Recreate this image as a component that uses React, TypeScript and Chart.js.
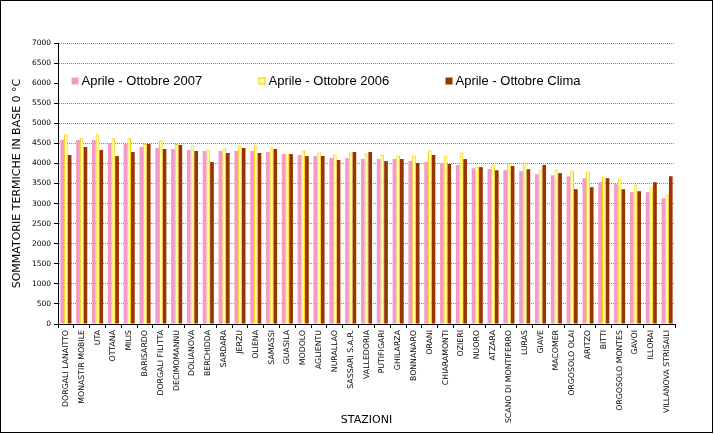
import React, { useEffect, useRef } from "react";
import { Chart, registerables } from "chart.js";

Chart.register(...registerables);

const stations: string[] = [
  "DORGALI LANAITTO", "MONASTIR MOBILE", "UTA", "OTTANA", "MILIS", "BARISARDO",
  "DORGALI FILITTA", "DECIMOMANNU", "DOLIANOVA", "BERCHIDDA", "SARDARA", "JERZU",
  "OLIENA", "SAMASSI", "GUASILA", "MODOLO", "AGLIENTU", "NURALLAO", "SASSARI S.A.R.",
  "VALLEDORIA", "PUTIFIGARI", "GHILARZA", "BONNANARO", "ORANI", "CHIARAMONTI",
  "OZIERI", "NUORO", "ATZARA", "SCANO DI MONTIFERRO", "LURAS", "GIAVE", "MACOMER",
  "ORGOSOLO OLAI", "ARITZO", "BITTI", "ORGOSOLO MONTES", "GAVOI", "ILLORAI",
  "VILLANOVA STRISAILI",
];

const values2007: number[] = [
  4583, 4583, 4583, 4508, 4483, 4408, 4383, 4358, 4333, 4308, 4308, 4308,
  4308, 4283, 4233, 4208, 4183, 4133, 4133, 4108, 4108, 4108, 4058, 4033,
  4008, 3958, 3883, 3858, 3833, 3808, 3733, 3708, 3683, 3633, 3533, 3483,
  3283, 3283, 3133,
];

const values2006: number[] = [
  4725, 4625, 4725, 4625, 4625, 4483, 4575, 4483, 4450, 4350, 4375, 4425,
  4425, 4400, 4250, 4325, 4275, 4225, 4275, 4250, 4225, 4200, 4200, 4325,
  4200, 4275, 3925, 3975, 4000, 4025, 3850, 3850, 3825, 3800, 3675, 3625,
  3475, 3425, 3225,
];

const valuesClima: number[] = [
  4208, 4408, 4333, 4183, 4283, 4483, 4358, 4458, 4308, 4033, 4258, 4383,
  4258, 4358, 4233, 4183, 4183, 4083, 4283, 4283, 4058, 4108, 4008, 4208,
  3983, 4108, 3908, 3833, 3933, 3858, 3958, 3758, 3358, 3408, 3633, 3358,
  3308, 3533, 3683,
];

const seriesNames: string[] = [
  "Aprile - Ottobre 2007",
  "Aprile - Ottobre 2006",
  "Aprile - Ottobre Clima",
];

const yTitle = "SOMMATORIE TERMICHE IN BASE 0 °C";
const xTitle = "STAZIONI";

const PINK = "#F49AC8";
const YELLOW_FILL = "#FFFF99";
const YELLOW_BORDER = "#FFCC00";
const BROWN = "#993300";

const legendPlugin = {
  id: "insideLegend",
  afterDraw(chart: any) {
    const { ctx, chartArea } = chart;
    ctx.save();
    ctx.fillStyle = "#ffffff";
    ctx.fillRect(chartArea.left + 1, 72, chartArea.right - chartArea.left - 1, 20);
    ctx.font = "13px 'Liberation Sans', Arial, sans-serif";
    ctx.textBaseline = "middle";
    ctx.textAlign = "left";
    chart.data.datasets.forEach((ds: any, i: number) => {
      const x = chartArea.left + 13.5 + i * 187;
      const y = 77.5;
      if (i === 1) {
        ctx.fillStyle = YELLOW_FILL;
        ctx.fillRect(x, y, 7, 7);
        ctx.strokeStyle = YELLOW_BORDER;
        ctx.lineWidth = 1;
        ctx.strokeRect(x + 0.5, y + 0.5, 6, 6);
      } else {
        ctx.fillStyle = ds.backgroundColor;
        ctx.fillRect(x, y, 7, 7);
      }
      ctx.fillStyle = "#000";
      ctx.fillText(ds.label, x + 10, 81.5);
    });
    ctx.restore();
  },
};

const framePlugin = {
  id: "frame",
  afterDraw(chart: any) {
    const { ctx } = chart;
    ctx.save();
    ctx.strokeStyle = "#000";
    ctx.lineWidth = 1;
    ctx.strokeRect(0.5, 0.5, 712, 432);
    ctx.restore();
  },
};

export default function App() {
  const ref = useRef<HTMLCanvasElement>(null);

  useEffect(() => {
    document.body.style.margin = "0";
    const canvas = ref.current;
    if (!canvas) return;
    const chart = new Chart(canvas, {
      type: "bar",
      data: {
        labels: stations,
        datasets: [
          {
            label: seriesNames[0],
            data: values2007,
            backgroundColor: PINK,
            borderWidth: 0,
          },
          {
            label: seriesNames[1],
            data: values2006,
            backgroundColor: YELLOW_FILL,
            borderColor: YELLOW_BORDER,
            borderWidth: 1,
          },
          {
            label: seriesNames[2],
            data: valuesClima,
            backgroundColor: BROWN,
            borderWidth: 0,
          },
        ],
      },
      options: {
        responsive: false,
        animation: false,
        devicePixelRatio: 1,
        datasets: {
          bar: { categoryPercentage: 0.7, barPercentage: 1.0 },
        },
        layout: { padding: { left: 0, right: 39, top: 43, bottom: 0 } },
        plugins: {
          legend: { display: false },
          tooltip: { enabled: false },
        },
        scales: {
          x: {
            offset: true,
            grid: {
              offset: true,
              drawOnChartArea: false,
              drawTicks: true,
              tickLength: 4,
              tickColor: "#000",
              color: "#000",
            },
            border: { display: true, color: "#000", width: 1 },
            ticks: {
              autoSkip: false,
              minRotation: 90,
              maxRotation: 90,
              padding: 2,
              color: "#000",
              font: { family: "'DejaVu Sans', Verdana, sans-serif", size: 7.8 },
            },
            title: {
              display: true,
              text: xTitle,
              color: "#000",
              padding: { top: 0, bottom: 7.5 },
              font: { family: "'DejaVu Sans', Verdana, sans-serif", size: 11 },
            },
            afterFit(scale: any) {
              scale.height = 110;
            },
          },
          y: {
            min: 0,
            max: 7000,
            ticks: {
              stepSize: 500,
              padding: 3,
              color: "#000",
              callback: (v: any) => String(v),
              font: { family: "'DejaVu Sans', Verdana, sans-serif", size: 7.5 },
            },
            grid: {
              color: "#888888",
              lineWidth: 1,
              drawTicks: true,
              tickLength: 4,
              tickColor: "#000",
              tickBorderDash: [],
            },
            border: { display: true, color: "#000", width: 1, dash: [1, 1] },
            title: {
              display: true,
              text: yTitle,
              color: "#000",
              padding: { top: 10.4, bottom: 0 },
              font: { family: "'DejaVu Sans', Verdana, sans-serif", size: 11 },
            },
            afterFit(scale: any) {
              scale.width = 58;
            },
          },
        },
      },
      plugins: [legendPlugin, framePlugin],
    });
    return () => chart.destroy();
  }, []);

  return (
    <div style={{ width: 714, height: 434 }}>
      <canvas ref={ref} width={714} height={434} style={{ display: "block" }} />
    </div>
  );
}
